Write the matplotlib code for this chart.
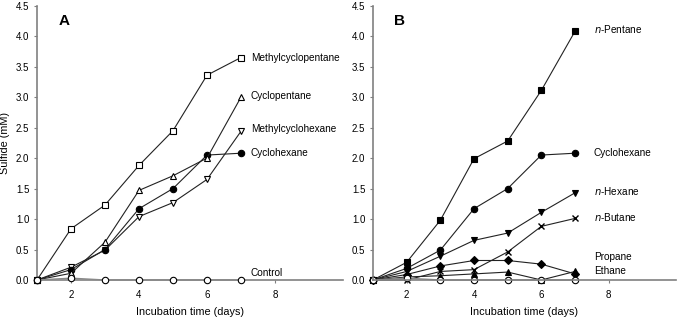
import matplotlib
matplotlib.use("Agg")
import matplotlib.pyplot as plt

plt.rcParams['font.family'] = ['Liberation Sans', 'DejaVu Sans']

days = [1, 2, 3, 4, 5, 6, 7]

# Panel A
a_methylcyclopentane = [0, 0.84, 1.23, 1.88, 2.45, 3.36, 3.65]
a_cyclopentane = [0, 0.11, 0.62, 1.47, 1.71, 2.00, 3.00]
a_methylcyclohexane = [0, 0.21, 0.49, 1.04, 1.27, 1.65, 2.44]
a_cyclohexane = [0, 0.17, 0.50, 1.17, 1.50, 2.05, 2.08]
a_control = [0, 0.03, 0, 0, 0, 0, 0]

# Panel B
b_pentane = [0, 0.29, 0.98, 1.99, 2.28, 3.11, 4.08]
b_cyclohexane = [0, 0.19, 0.49, 1.17, 1.50, 2.05, 2.08]
b_hexane = [0, 0.14, 0.39, 0.65, 0.77, 1.11, 1.43]
b_butane = [0, 0.0, 0.14, 0.17, 0.46, 0.88, 1.01]
b_propane = [0, 0.09, 0.23, 0.32, 0.32, 0.26, 0.10]
b_ethane = [0, 0.05, 0.07, 0.10, 0.13, 0.0, 0.14]
b_control = [0, 0.03, 0, 0, 0, 0, 0]

labels_a = ["Methylcyclopentane", "Cyclopentane", "Methylcyclohexane", "Cyclohexane", "Control"]
label_a_y = [3.65, 3.02, 2.48, 2.09, 0.12]
labels_b = ["$\\it{n}$-Pentane", "Cyclohexane", "$\\it{n}$-Hexane", "$\\it{n}$-Butane", "Propane", "Ethane"]
label_b_y = [4.11, 2.09, 1.46, 1.03, 0.37, 0.14]

fig = plt.figure(figsize=(6.8, 3.2), dpi=100)
axA = fig.add_axes([37/680, 1-280/320, 306/680, (280-5.7)/320])
axB = fig.add_axes([373/680, 1-280/320, 303/680, (280-5.7)/320])

lc = '#222222'
ms = 4.6
kw = dict(color=lc, lw=0.8, markeredgecolor='black', markeredgewidth=0.8, markersize=ms, clip_on=False)

def style(ax):
    ax.set_xlim(1, 10)
    ax.set_ylim(0, 4.5)
    ax.set_xticks([2, 4, 6, 8])
    yt = [0, 0.5, 1, 1.5, 2, 2.5, 3, 3.5, 4, 4.5]
    ax.set_yticks(yt)
    ax.set_yticklabels(["%.1f" % v for v in yt])
    for s in ['top', 'right']:
        ax.spines[s].set_visible(False)
    for s in ['left', 'bottom']:
        ax.spines[s].set_color('#808080')
        ax.spines[s].set_linewidth(1.2)
    ax.tick_params(axis='both', labelsize=7, length=2.5, width=0.8, color='#808080')
    ax.tick_params(axis='x', pad=5)
    ax.tick_params(axis='y', pad=3)
    ax.set_xlabel("Incubation time (days)", fontsize=7.8, labelpad=5)

# Panel A
axA.plot(days, a_control, marker='o', mfc='white', color='#888888', lw=1.0,
         markeredgecolor='black', markeredgewidth=0.8, markersize=ms, clip_on=False, zorder=3)
axA.plot(days, a_methylcyclohexane, marker='v', mfc='white', **kw)
axA.plot(days, a_cyclohexane, marker='o', mfc='black', **kw)
axA.plot(days, a_cyclopentane, marker='^', mfc='white', **kw)
axA.plot(days, a_methylcyclopentane, marker='s', mfc='white', **kw)
for t, y in zip(labels_a, label_a_y):
    axA.text(7.29, y, t, fontsize=7.2, va='center', ha='left')
axA.text(1.8, 4.25, "A", fontsize=11, fontweight='bold', ha='center', va='center')
axA.set_ylabel("Sulfide (mM)", fontsize=7.8, labelpad=4)
style(axA)

# Panel B
axB.plot(days, b_ethane, marker='^', mfc='black', **kw)
axB.plot(days, b_control, marker='o', mfc='white', color='#888888', lw=1.0,
         markeredgecolor='black', markeredgewidth=0.8, markersize=ms, clip_on=False, zorder=2.5)
axB.plot(days, b_propane, marker='D', mfc='black', color=lc, lw=0.8, markeredgecolor='black',
         markeredgewidth=0.8, markersize=3.8, clip_on=False)
axB.plot(days, b_butane, marker='x', mfc='black', color=lc, lw=0.8, markeredgecolor='black',
         markeredgewidth=1.0, markersize=ms, clip_on=False)
axB.plot(days, b_hexane, marker='v', mfc='black', **kw)
axB.plot(days, b_cyclohexane, marker='o', mfc='black', **kw)
axB.plot(days, b_pentane, marker='s', mfc='black', **kw)
for t, y in zip(labels_b, label_b_y):
    axB.text(7.56, y, t, fontsize=7.2, va='center', ha='left')
axB.text(1.8, 4.25, "B", fontsize=11, fontweight='bold', ha='center', va='center')
style(axB)

fig.savefig("out.png", dpi=100)
